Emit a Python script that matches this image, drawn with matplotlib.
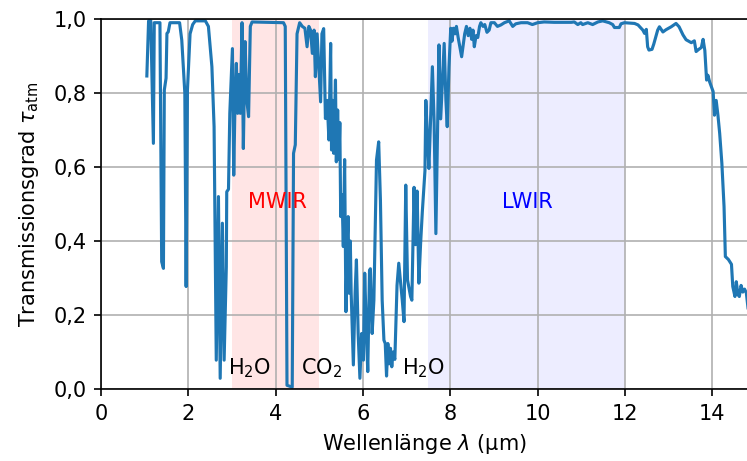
import matplotlib
matplotlib.use("Agg")
import matplotlib.pyplot as plt
from matplotlib.ticker import FuncFormatter, MultipleLocator

wavelength = [1.05, 1.09, 1.14, 1.20, 1.22, 1.35, 1.39, 1.43, 1.45, 1.49, 1.51, 1.54, 1.58, 1.80, 1.85, 1.92,
              1.95, 1.98, 2.04, 2.10, 2.16, 2.39, 2.46, 2.54, 2.59, 2.64, 2.69, 2.73, 2.78, 2.82, 2.87, 2.88,
              2.92, 2.95, 3.01, 3.04, 3.07, 3.10, 3.13, 3.16, 3.19, 3.23, 3.26, 3.30, 3.34, 3.38, 3.42, 3.46,
              4.18, 4.22, 4.26, 4.38, 4.41, 4.45, 4.49, 4.55, 4.61, 4.67, 4.72, 4.76, 4.80, 4.84, 4.88, 4.91,
              4.95, 4.99, 5.03, 5.06, 5.10, 5.14, 5.18, 5.22, 5.26, 5.28, 5.30, 5.33, 5.37, 5.39, 5.42, 5.45,
              5.47, 5.49, 5.52, 5.55, 5.58, 5.61, 5.64, 5.66, 5.68, 5.71, 5.73, 5.78, 5.82, 5.85, 5.89, 5.93,
              5.97, 6.01, 6.04, 6.08, 6.11, 6.15, 6.17, 6.21, 6.25, 6.31, 6.36, 6.40, 6.44, 6.48, 6.51, 6.54,
              6.57, 6.60, 6.63, 6.66, 6.69, 6.73, 6.78, 6.82, 6.86, 6.90, 6.94, 6.98, 7.02, 7.09, 7.12, 7.17,
              7.20, 7.24, 7.28, 7.32, 7.36, 7.40, 7.42, 7.44, 7.48, 7.51, 7.55, 7.59, 7.63, 7.67, 7.71, 7.74,
              7.78, 7.82, 7.86, 7.90, 7.93, 7.97, 8.01, 8.04, 8.07, 8.11, 8.14, 8.18, 8.26, 8.33, 8.37, 8.41,
              8.45, 8.49, 8.52, 8.55, 8.59, 8.63, 8.67, 8.70, 8.75, 8.79, 8.84, 8.89, 8.93, 9.01, 9.08, 9.16,
              9.24, 9.35, 9.43, 9.50, 9.62, 9.77, 9.88, 10.00, 10.15, 10.38, 10.77, 10.84, 10.92, 10.99, 11.03,
              11.15, 11.26, 11.38, 11.49, 11.64, 11.72, 11.76, 11.87, 11.91, 11.99, 12.22, 12.30, 12.41, 12.45,
              12.49, 12.52, 12.55, 12.62, 12.66, 12.75, 12.79, 12.87, 12.94, 13.06, 13.17, 13.24, 13.33, 13.40,
              13.52, 13.59, 13.63, 13.68, 13.75, 13.79, 13.83, 13.87, 13.90, 13.94, 14.02, 14.05, 14.09, 14.13,
              14.17, 14.22, 14.27, 14.30, 14.37, 14.44, 14.47, 14.52, 14.55, 14.59, 14.62, 14.66, 14.70, 14.74,
              14.78, 14.82]

transmission = [0.846, 0.995, 0.995, 0.664, 0.99, 0.99, 0.344, 0.326, 0.808, 0.84, 0.961, 0.965, 0.99, 0.99, 0.943, 0.80,
                0.277, 0.808, 0.96, 0.985, 0.995, 0.995, 0.98, 0.871, 0.709, 0.078, 0.52, 0.029, 0.448, 0.078, 0.33, 0.533,
                0.54, 0.745, 0.92, 0.578, 0.78, 0.88, 0.745, 0.85, 0.745, 0.99, 0.65, 0.939, 0.78, 0.736, 0.98, 0.992,
                0.99, 0.98, 0.01, 0.005, 0.637, 0.66, 0.96, 0.99, 0.98, 0.975, 0.925, 0.98, 0.97, 0.907, 0.97, 0.844,
                0.96, 0.87, 0.776, 0.96, 0.974, 0.731, 0.78, 0.673, 0.934, 0.646, 0.78, 0.637, 0.835, 0.614, 0.754, 0.62,
                0.72, 0.466, 0.525, 0.385, 0.62, 0.209, 0.403, 0.466, 0.259, 0.40, 0.259, 0.065, 0.26, 0.349, 0.15, 0.029,
                0.15, 0.078, 0.313, 0.15, 0.047, 0.32, 0.325, 0.15, 0.24, 0.619, 0.668, 0.51, 0.24, 0.132, 0.123, 0.035,
                0.123, 0.068, 0.11, 0.06, 0.10, 0.08, 0.28, 0.34, 0.29, 0.24, 0.182, 0.551, 0.295, 0.25, 0.24, 0.545,
                0.39, 0.535, 0.286, 0.393, 0.48, 0.555, 0.59, 0.78, 0.67, 0.596, 0.73, 0.871, 0.72, 0.42, 0.72, 0.93,
                0.73, 0.83, 0.934, 0.78, 0.709, 0.87, 0.975, 0.94, 0.975, 0.96, 0.98, 0.95, 0.898, 0.96, 0.98, 0.955,
                0.975, 0.945, 0.97, 0.925, 0.955, 0.95, 0.98, 0.99, 0.98, 0.985, 0.964, 0.97, 0.99, 0.99, 0.98, 0.984,
                0.99, 0.995, 0.98, 0.987, 0.99, 0.99, 0.985, 0.99, 0.992, 0.991, 0.991, 0.992, 0.985, 0.99, 0.985,
                0.99, 0.985, 0.992, 0.995, 0.99, 0.985, 0.977, 0.977, 0.987, 0.99, 0.988, 0.984, 0.97, 0.961,
                0.972, 0.925, 0.916, 0.918, 0.932, 0.97, 0.979, 0.965, 0.971, 0.979, 0.988, 0.979, 0.957, 0.944,
                0.936, 0.941, 0.912, 0.917, 0.923, 0.945, 0.915, 0.835, 0.848, 0.83, 0.804, 0.74, 0.78, 0.74,
                0.691, 0.61, 0.493, 0.358, 0.35, 0.337, 0.277, 0.25, 0.29, 0.255, 0.25, 0.28, 0.262, 0.27,
                0.26, 0.218]

bands = [("MWIR", 3.0, 5.0, "red", 0.1, 4.05), ("LWIR", 7.5, 12.0, "blue", 0.07, 9.77)]
absorbers = [("H$_2$O", 3.40), ("CO$_2$", 5.05), ("H$_2$O", 7.38)]

plt.rcParams['font.family'] = ['DejaVu Sans']
plt.rcParams['font.size'] = 10

fig = plt.figure(figsize=(747 / 150, 461 / 150), dpi=150)
ax = fig.add_axes([101 / 747, 72 / 461, 1 - 101 / 747 + 0.002, 370 / 461])

for name, lo, hi, col, alpha, xc in bands:
    ax.axvspan(lo, hi, color=col, alpha=alpha, lw=0)
    ax.text(xc, 0.505, name, color=col, ha="center", va="center", fontsize=10)

for name, xc in absorbers:
    ax.text(xc, 0.057, name, color="black", ha="center", va="center", fontsize=10)

ax.plot(wavelength, transmission, color="#1f77b4", lw=1.5)

ax.set_xlim(0, 14.83)
ax.set_ylim(0, 1.0)
ax.xaxis.set_major_locator(MultipleLocator(2))
ax.yaxis.set_major_locator(MultipleLocator(0.2))
ax.yaxis.set_major_formatter(FuncFormatter(lambda v, p: f"{v:.1f}".replace(".", ",")))
ax.xaxis.set_major_formatter(FuncFormatter(lambda v, p: f"{v:.0f}"))
ax.grid(True, color="#b0b0b0", lw=0.8)
ax.set_xlabel(r"Wellenlänge $\lambda$ (µm)")
ax.set_ylabel(r"Transmissionsgrad $\tau_\mathrm{atm}$", labelpad=6)

fig.savefig("out.png", dpi=150)
